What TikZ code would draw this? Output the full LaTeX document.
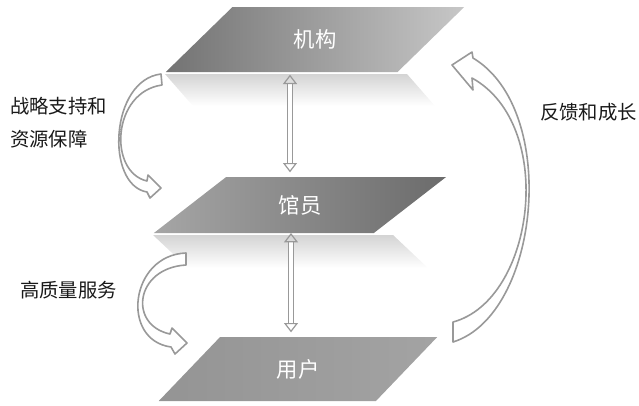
\documentclass[tikz,border=0pt]{standalone}
\usepackage{fontspec}
\setmainfont{Noto Sans CJK SC}
\usetikzlibrary{shapes.geometric,arrows.meta,calc}
\begin{document}
\begin{tikzpicture}[x=0.75pt,y=-0.75pt,
  layer/.style={trapezium, trapezium stretches=true, inner sep=0pt, outer sep=0pt,
    font=\fontsize{16}{18}\selectfont, text=white},
  sidelabel/.style={anchor=west, inner sep=0pt, font=\fontsize{14.5}{24.75}\selectfont,
    text=black!90, align=left},
  curvearrow/.style={draw=black!40, line width=1.2pt, fill=white, line join=round},
  dbl/.style={draw=black!40, line width=0.9pt, double=white, double distance=2.4pt,
    {Triangle[open, line width=0.9pt, width=10.5pt, length=7pt]}-{Triangle[open, line width=0.9pt, width=10.5pt, length=7pt]}},
  refl/.style={top color=black!17, bottom color=white, draw=none}
]
\useasboundingbox (0,0) rectangle (639,405);

% reflections
\shade[refl] (165,74) -- (407,74) -- (435,106) -- (193,106) -- cycle;
\shade[refl] (153,235) -- (393,235) -- (428,268) -- (188,268) -- cycle;

% layers
\node[layer, left color=black!55, right color=black!22, minimum width=225pt, minimum height=48.75pt,
  trapezium left angle=48.75, trapezium right angle=131.25] (jg) at (315,39.5) {机构};
\node[layer, left color=black!35, right color=black!58, minimum width=220.5pt, minimum height=42pt,
  trapezium left angle=43.5, trapezium right angle=136.5] (gy) at (300,205) {馆员};
\node[layer, left color=black!42, right color=black!36, minimum width=210pt, minimum height=48pt,
  trapezium left angle=49.8, trapezium right angle=130.2] (yh) at (298,369) {用户};

% vertical double arrows
\coordinate (ax) at (290,0);
\coordinate (bx) at (291,0);
\draw[dbl, shorten <=2pt, shorten >=3.5pt] (jg.south -| ax) -- (gy.north -| ax);
\draw[dbl, shorten >=3.5pt] (gy.south -| bx) -- (yh.north -| bx);

% curved arrows
\draw[curvearrow] (162,85) .. controls (112,92) and (108,172) .. (147,181)
  -- (148,175) -- (161,188) -- (150,198) -- (147,192)
  .. controls (105,185) and (110,80) .. (161,74) -- cycle;
\draw[curvearrow] (186,265) .. controls (135,268) and (128,325) .. (170,334)
  -- (172,328) -- (187,343) -- (175,354) -- (171,347)
  .. controls (120,340) and (130,255) .. (186,253) -- cycle;
\draw[curvearrow] (453,322) .. controls (535,300) and (557,125) .. (472,78)
  -- (473,90) -- (452,65) -- (472,52) -- (473,58)
  .. controls (560,110) and (540,315) .. (453,342) -- cycle;

% labels
\node[sidelabel] (zl) at (10,123) {战略支持和\\资源保障};
\node[sidelabel] (gz) at (20,290) {高质量服务};
\node[sidelabel] (fk) at (540,112) {反馈和成长};
\end{tikzpicture}
\end{document}
